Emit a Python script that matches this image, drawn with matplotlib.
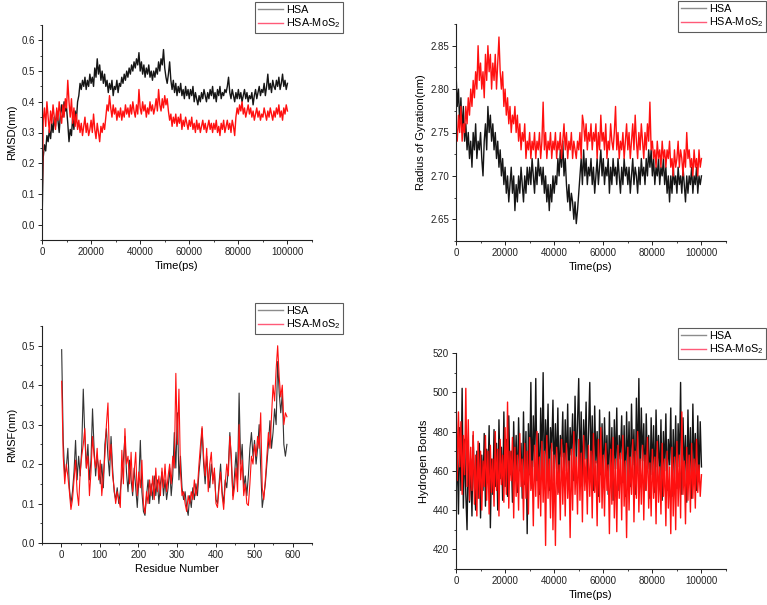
import numpy as np
import matplotlib
matplotlib.use("Agg")
import matplotlib.pyplot as plt
from matplotlib.ticker import MultipleLocator
from matplotlib.lines import Line2D

plt.rcParams['font.family'] = ['Liberation Sans', 'DejaVu Sans']
plt.rcParams['mathtext.fontset'] = 'custom'
plt.rcParams['mathtext.rm'] = 'Liberation Sans'

# time grid (ps), one frame every 500 ps
time = np.linspace(0, 100000, 201)
residue = np.arange(1, 586, 4)

# RMSD (nm)
rmsd_hsa = [0.00, 0.22, 0.26, 0.24, 0.29, 0.27, 0.31, 0.28, 0.33, 0.30,
            0.35, 0.32, 0.37, 0.34, 0.30, 0.36, 0.39, 0.35, 0.40, 0.37,
            0.38, 0.33, 0.27, 0.31, 0.29, 0.35, 0.31, 0.37, 0.34, 0.40,
            0.42, 0.46, 0.44, 0.47, 0.45, 0.48, 0.44, 0.47, 0.45, 0.49,
            0.46, 0.48, 0.45, 0.51, 0.48, 0.54, 0.49, 0.52, 0.47, 0.50,
            0.46, 0.49, 0.45, 0.47, 0.43, 0.46, 0.44, 0.47, 0.42, 0.45,
            0.44, 0.47, 0.43, 0.46, 0.45, 0.48, 0.46, 0.49, 0.47, 0.50,
            0.48, 0.51, 0.49, 0.52, 0.50, 0.53, 0.51, 0.54, 0.52, 0.56,
            0.50, 0.53, 0.49, 0.52, 0.48, 0.51, 0.49, 0.52, 0.48, 0.50,
            0.47, 0.50, 0.48, 0.51, 0.49, 0.53, 0.50, 0.54, 0.52, 0.57,
            0.51, 0.48, 0.46, 0.49, 0.53, 0.47, 0.44, 0.47, 0.43, 0.46,
            0.42, 0.45, 0.43, 0.46, 0.42, 0.44, 0.41, 0.45, 0.42, 0.44,
            0.41, 0.44, 0.42, 0.45, 0.40, 0.43, 0.41, 0.39, 0.42, 0.40,
            0.43, 0.41, 0.44, 0.42, 0.40, 0.43, 0.41, 0.44, 0.42, 0.45,
            0.41, 0.43, 0.40, 0.44, 0.42, 0.45, 0.41, 0.43, 0.42, 0.44,
            0.43, 0.45, 0.48, 0.43, 0.41, 0.44, 0.42, 0.40, 0.43, 0.41,
            0.44, 0.41, 0.43, 0.40, 0.42, 0.44, 0.41, 0.43, 0.40, 0.42,
            0.41, 0.43, 0.39, 0.42, 0.44, 0.41, 0.43, 0.45, 0.42, 0.44,
            0.43, 0.46, 0.42, 0.45, 0.49, 0.44, 0.46, 0.43, 0.47, 0.45,
            0.44, 0.47, 0.45, 0.48, 0.44, 0.46, 0.49, 0.45, 0.47, 0.44,
            0.46]
rmsd_mos2 = [0.05, 0.34, 0.38, 0.32, 0.40, 0.35, 0.30, 0.37, 0.33, 0.39,
             0.35, 0.31, 0.38, 0.34, 0.40, 0.36, 0.33, 0.39, 0.35, 0.41,
             0.38, 0.47, 0.40, 0.35, 0.41, 0.33, 0.38, 0.32, 0.36, 0.31,
             0.34, 0.30, 0.33, 0.29, 0.32, 0.35, 0.30, 0.33, 0.29, 0.31,
             0.34, 0.30, 0.36, 0.31, 0.28, 0.33, 0.30, 0.27, 0.32, 0.30,
             0.33, 0.31, 0.35, 0.39, 0.37, 0.42, 0.38, 0.35, 0.39, 0.36,
             0.38, 0.34, 0.37, 0.35, 0.38, 0.34, 0.37, 0.35, 0.39, 0.36,
             0.38, 0.35, 0.39, 0.36, 0.40, 0.37, 0.35, 0.39, 0.36, 0.44,
             0.38, 0.36, 0.40, 0.37, 0.39, 0.35, 0.38, 0.36, 0.40, 0.37,
             0.39, 0.36, 0.38, 0.41, 0.37, 0.44, 0.39, 0.37, 0.41, 0.38,
             0.42, 0.39, 0.41, 0.37, 0.34, 0.36, 0.32, 0.35, 0.33, 0.36,
             0.32, 0.35, 0.33, 0.36, 0.31, 0.34, 0.32, 0.35, 0.33, 0.31,
             0.34, 0.32, 0.35, 0.31, 0.33, 0.30, 0.34, 0.31, 0.33, 0.30,
             0.32, 0.34, 0.31, 0.33, 0.30, 0.32, 0.34, 0.31, 0.33, 0.30,
             0.33, 0.31, 0.34, 0.30, 0.32, 0.29, 0.33, 0.31, 0.34, 0.30,
             0.32, 0.34, 0.31, 0.33, 0.30, 0.34, 0.32, 0.29, 0.35, 0.38,
             0.36, 0.39, 0.37, 0.40, 0.36, 0.38, 0.35, 0.37, 0.39, 0.36,
             0.38, 0.35, 0.37, 0.34, 0.36, 0.38, 0.35, 0.37, 0.34, 0.36,
             0.35, 0.38, 0.36, 0.34, 0.37, 0.35, 0.38, 0.36, 0.34, 0.37,
             0.35, 0.38, 0.36, 0.39, 0.35, 0.37, 0.34, 0.38, 0.36, 0.39,
             0.37]

# Radius of gyration (nm)
rg_hsa = [2.82, 2.78, 2.80, 2.76, 2.79, 2.75, 2.78, 2.74, 2.76, 2.73,
          2.75, 2.72, 2.74, 2.71, 2.75, 2.73, 2.76, 2.72, 2.74, 2.73,
          2.75, 2.72, 2.70, 2.74, 2.76, 2.73, 2.78, 2.75, 2.77, 2.74,
          2.76, 2.73, 2.75, 2.72, 2.74, 2.71, 2.73, 2.70, 2.72, 2.69,
          2.71, 2.68, 2.70, 2.67, 2.69, 2.71, 2.68, 2.70, 2.66, 2.69,
          2.67, 2.70, 2.68, 2.71, 2.69, 2.67, 2.70, 2.68, 2.71, 2.69,
          2.71, 2.69, 2.72, 2.70, 2.68, 2.71, 2.69, 2.72, 2.70, 2.71,
          2.69, 2.71, 2.68, 2.70, 2.67, 2.69, 2.66, 2.69, 2.67, 2.70,
          2.68, 2.70, 2.69, 2.72, 2.70, 2.73, 2.71, 2.74, 2.70, 2.72,
          2.69, 2.67, 2.69, 2.66, 2.68, 2.67, 2.65, 2.67, 2.645, 2.66,
          2.68, 2.70, 2.72, 2.69, 2.73, 2.70, 2.72, 2.69, 2.71, 2.70,
          2.72, 2.69, 2.71, 2.68, 2.70, 2.72, 2.69, 2.71, 2.73, 2.70,
          2.72, 2.69, 2.71, 2.70, 2.72, 2.68, 2.71, 2.69, 2.72, 2.70,
          2.71, 2.69, 2.72, 2.70, 2.68, 2.71, 2.69, 2.72, 2.70, 2.71,
          2.69, 2.71, 2.68, 2.70, 2.72, 2.69, 2.71, 2.70, 2.68, 2.71,
          2.69, 2.72, 2.70, 2.71, 2.69, 2.72, 2.70, 2.73, 2.71, 2.73,
          2.70, 2.72, 2.69, 2.71, 2.70, 2.72, 2.69, 2.71, 2.70, 2.72,
          2.69, 2.71, 2.68, 2.70, 2.67, 2.70, 2.68, 2.71, 2.69, 2.70,
          2.68, 2.71, 2.69, 2.70, 2.68, 2.71, 2.69, 2.67, 2.70, 2.68,
          2.70, 2.69, 2.71, 2.68, 2.70, 2.69, 2.71, 2.68, 2.70, 2.69,
          2.70]
rg_mos2 = [2.76, 2.74, 2.77, 2.75, 2.78, 2.74, 2.76, 2.75, 2.78, 2.76,
           2.79, 2.77, 2.80, 2.78, 2.81, 2.79, 2.82, 2.80, 2.85, 2.81,
           2.83, 2.80, 2.82, 2.79, 2.84, 2.81, 2.85, 2.82, 2.84, 2.80,
           2.83, 2.81, 2.84, 2.80, 2.83, 2.86, 2.82, 2.80, 2.82, 2.78,
           2.80, 2.77, 2.79, 2.76, 2.78, 2.75, 2.77, 2.76, 2.78, 2.75,
           2.77, 2.74, 2.76, 2.73, 2.75, 2.74, 2.76, 2.72, 2.74, 2.73,
           2.75, 2.72, 2.74, 2.73, 2.75, 2.72, 2.74, 2.73, 2.75, 2.72,
           2.74, 2.785, 2.73, 2.75, 2.72, 2.74, 2.73, 2.75, 2.72, 2.74,
           2.73, 2.75, 2.72, 2.74, 2.73, 2.75, 2.72, 2.74, 2.76, 2.73,
           2.75, 2.72, 2.74, 2.73, 2.75, 2.72, 2.74, 2.73, 2.72, 2.74,
           2.73, 2.75, 2.72, 2.77, 2.76, 2.74, 2.76, 2.73, 2.75, 2.74,
           2.76, 2.73, 2.75, 2.74, 2.76, 2.72, 2.75, 2.73, 2.77, 2.74,
           2.75, 2.73, 2.76, 2.72, 2.74, 2.73, 2.76, 2.74, 2.73, 2.75,
           2.78, 2.73, 2.75, 2.72, 2.74, 2.73, 2.75, 2.72, 2.74, 2.76,
           2.73, 2.75, 2.72, 2.74, 2.76, 2.73, 2.77, 2.74, 2.72, 2.75,
           2.73, 2.76, 2.74, 2.72, 2.75, 2.73, 2.76, 2.74, 2.785, 2.73,
           2.74, 2.72, 2.73, 2.71, 2.74, 2.72, 2.73, 2.71, 2.74, 2.72,
           2.73, 2.71, 2.73, 2.72, 2.74, 2.71, 2.72, 2.70, 2.73, 2.71,
           2.72, 2.74, 2.71, 2.73, 2.72, 2.70, 2.73, 2.71, 2.75, 2.72,
           2.73, 2.71, 2.72, 2.70, 2.73, 2.71, 2.72, 2.70, 2.73, 2.71,
           2.72]

# RMSF (nm) every 4th residue
rmsf_hsa = [0.49, 0.26, 0.17, 0.19, 0.24, 0.14, 0.10, 0.13, 0.18, 0.26,
            0.16, 0.22, 0.17, 0.24, 0.39, 0.27, 0.19, 0.25, 0.16, 0.21,
            0.34, 0.24, 0.17, 0.22, 0.19, 0.15, 0.20, 0.14, 0.25, 0.29,
            0.22, 0.17, 0.27, 0.19, 0.13, 0.11, 0.14, 0.10, 0.13, 0.17,
            0.21, 0.27, 0.18, 0.13, 0.21, 0.16, 0.12, 0.19, 0.14, 0.09,
            0.16, 0.26, 0.13, 0.08, 0.07, 0.12, 0.16, 0.10, 0.15, 0.11,
            0.17, 0.12, 0.16, 0.10, 0.15, 0.18, 0.12, 0.16, 0.11, 0.14,
            0.19, 0.12, 0.17, 0.28, 0.19, 0.33, 0.16, 0.22, 0.14, 0.11,
            0.13, 0.09, 0.07, 0.12, 0.09, 0.14, 0.11, 0.15, 0.12, 0.18,
            0.22, 0.29, 0.20, 0.15, 0.22, 0.17, 0.14, 0.20, 0.16, 0.18,
            0.11, 0.10, 0.15, 0.20, 0.13, 0.10, 0.16, 0.14, 0.19, 0.28,
            0.20, 0.12, 0.17, 0.23, 0.16, 0.38, 0.20, 0.25, 0.14, 0.17,
            0.12, 0.17, 0.24, 0.28, 0.22, 0.26, 0.20, 0.24, 0.30, 0.19,
            0.09, 0.12, 0.15, 0.20, 0.25, 0.31, 0.24, 0.28, 0.34, 0.30,
            0.46, 0.38, 0.33, 0.38, 0.25, 0.22, 0.25]
rmsf_mos2 = [0.41, 0.22, 0.15, 0.20, 0.17, 0.13, 0.085, 0.11, 0.16, 0.21,
             0.13, 0.095, 0.18, 0.22, 0.25, 0.29, 0.19, 0.22, 0.12, 0.18,
             0.27, 0.22, 0.19, 0.24, 0.16, 0.21, 0.12, 0.17, 0.22, 0.30,
             0.355, 0.21, 0.25, 0.17, 0.14, 0.10, 0.13, 0.11, 0.09, 0.235,
             0.15, 0.29, 0.20, 0.22, 0.15, 0.23, 0.13, 0.18, 0.23, 0.12,
             0.18, 0.14, 0.21, 0.10, 0.075, 0.13, 0.10, 0.16, 0.12, 0.17,
             0.11, 0.19, 0.13, 0.17, 0.12, 0.19, 0.14, 0.20, 0.13, 0.17,
             0.20, 0.15, 0.22, 0.19, 0.43, 0.25, 0.39, 0.18, 0.12, 0.13,
             0.10, 0.08, 0.12, 0.10, 0.13, 0.11, 0.16, 0.12, 0.14, 0.20,
             0.25, 0.295, 0.22, 0.17, 0.24, 0.13, 0.20, 0.23, 0.15, 0.19,
             0.10, 0.09, 0.14, 0.18, 0.12, 0.085, 0.15, 0.20, 0.17, 0.27,
             0.22, 0.11, 0.14, 0.19, 0.13, 0.30, 0.16, 0.21, 0.12, 0.15,
             0.10, 0.095, 0.15, 0.22, 0.20, 0.25, 0.22, 0.27, 0.24, 0.33,
             0.14, 0.11, 0.16, 0.22, 0.28, 0.24, 0.32, 0.40, 0.36, 0.44,
             0.50, 0.42, 0.37, 0.40, 0.30, 0.33, 0.32]

# number of hydrogen bonds
hb_hsa = [445, 470, 438, 482, 450, 502, 441, 476, 448, 430,
          472, 444, 466, 437, 478, 452, 440, 470, 446, 474,
          436, 468, 450, 479, 442, 471, 455, 483, 431, 466,
          448, 481, 452, 474, 440, 486, 456, 472, 445, 490,
          452, 476, 447, 488, 458, 470, 444, 485, 455, 478,
          449, 487, 460, 474, 446, 490, 453, 480, 428, 484,
          458, 505, 451, 488, 462, 507, 455, 479, 448, 492,
          463, 510, 452, 486, 466, 494, 450, 482, 470, 496,
          455, 484, 461, 492, 449, 478, 467, 490, 453, 486,
          460, 494, 451, 482, 468, 489, 455, 498, 462, 485,
          507, 458, 490, 452, 486, 466, 495, 455, 481, 505,
          460, 488, 450, 493, 464, 480, 447, 491, 458, 484,
          452, 487, 463, 478, 448, 490, 457, 482, 445, 486,
          461, 492, 450, 478, 466, 488, 454, 483, 447, 490,
          459, 485, 452, 494, 463, 481, 448, 497, 460, 507,
          455, 492, 465, 484, 450, 489, 461, 478, 446, 487,
          458, 483, 449, 491, 462, 478, 452, 486, 445, 480,
          460, 489, 450, 476, 463, 492, 447, 481, 456, 488,
          451, 484, 462, 505, 448, 487, 459, 478, 444, 491,
          457, 482, 446, 494, 460, 479, 450, 488, 455, 485,
          462]
hb_mos2 = [502, 455, 490, 462, 485, 448, 478, 458, 502, 452,
           486, 445, 472, 450, 480, 443, 468, 437, 475, 446,
           470, 440, 465, 452, 478, 445, 470, 438, 473, 449,
           466, 442, 480, 450, 471, 437, 476, 453, 468, 444,
           482, 448, 495, 441, 470, 455, 477, 436, 472, 447,
           468, 440, 479, 452, 466, 435, 474, 446, 470, 438,
           477, 450, 465, 432, 473, 447, 480, 441, 467, 437,
           475, 444, 470, 422, 478, 446, 466, 436, 474, 430,
           468, 422, 472, 448, 463, 435, 476, 443, 469, 437,
           474, 446, 465, 426, 471, 440, 480, 448, 467, 438,
           476, 445, 469, 434, 478, 450, 466, 438, 473, 447,
           470, 436, 479, 449, 465, 432, 476, 444, 482, 441,
           468, 437, 474, 450, 463, 428, 471, 443, 477, 436,
           466, 429, 473, 446, 469, 435, 478, 442, 465, 426,
           472, 440, 467, 448, 476, 434, 470, 446, 480, 439,
           466, 443, 473, 435, 468, 450, 477, 441, 464, 437,
           471, 446, 467, 433, 475, 444, 462, 438, 474, 447,
           466, 432, 470, 441, 462, 428, 472, 437, 467, 430,
           475, 442, 468, 436, 490, 448, 465, 433, 472, 445,
           468, 439, 474, 446, 466, 441, 476, 449, 463, 447,
           458]

labels = ["HSA", "HSA-MoS$_2$"]
W, H = 767, 605
BLACK = '#151515'
RED = '#ff1010'
LW = 1.0

handles = [Line2D([], [], color='#8c8c8c', lw=1.0),
           Line2D([], [], color='#ff5a78', lw=1.0)]


def style_axes(ax):
    ax.spines['top'].set_visible(False)
    ax.spines['right'].set_visible(False)
    for s in ('left', 'bottom'):
        ax.spines[s].set_linewidth(0.8)
        ax.spines[s].set_color('#222222')
    ax.tick_params(which='major', direction='out', length=3, width=0.7,
                   labelsize=7, pad=2, colors='#222222')
    ax.tick_params(which='minor', direction='out', length=1.6, width=0.6,
                   colors='#222222')


def add_legend(ax, right_px, top_px):
    leg = ax.legend(handles, labels, loc='upper right',
                    bbox_to_anchor=(right_px / W, 1 - top_px / H),
                    bbox_transform=ax.figure.transFigure,
                    fontsize=7.8, frameon=True, fancybox=False,
                    handlelength=2.3, handletextpad=0.3, borderpad=0.25,
                    labelspacing=0.15, borderaxespad=0)
    leg.get_frame().set_edgecolor('#333333')
    leg.get_frame().set_linewidth(0.8)


fig = plt.figure(figsize=(W / 100, H / 100), dpi=100)

# RMSD
ax1 = fig.add_axes([42 / W, 1 - 240 / H, 270 / W, 215 / H])
ax1.plot(time, rmsd_hsa, color=BLACK, lw=LW)
ax1.plot(time, rmsd_mos2, color=RED, lw=LW)
ax1.set_xlim(0, 110000)
ax1.set_ylim(-0.05, 0.65)
ax1.xaxis.set_major_locator(MultipleLocator(20000))
ax1.xaxis.set_minor_locator(MultipleLocator(10000))
ax1.set_yticks(np.arange(0, 0.61, 0.1))
ax1.yaxis.set_minor_locator(MultipleLocator(0.05))
ax1.set_xlabel("Time(ps)", fontsize=8, labelpad=3)
ax1.set_ylabel("RMSD(nm)", fontsize=8, labelpad=3)
style_axes(ax1)
add_legend(ax1, 343, 2)

# Radius of gyration
ax2 = fig.add_axes([456 / W, 1 - 241 / H, 270 / W, 217 / H])
ax2.plot(time, rg_hsa, color=BLACK, lw=LW)
ax2.plot(time, rg_mos2, color=RED, lw=LW)
ax2.set_xlim(0, 110000)
ax2.set_ylim(2.625, 2.875)
ax2.xaxis.set_major_locator(MultipleLocator(20000))
ax2.xaxis.set_minor_locator(MultipleLocator(10000))
ax2.set_yticks([2.65, 2.70, 2.75, 2.80, 2.85])
ax2.yaxis.set_minor_locator(MultipleLocator(0.025))
ax2.set_xlabel("Time(ps)", fontsize=8, labelpad=3)
ax2.set_ylabel("Radius of Gyration(nm)", fontsize=8, labelpad=3)
style_axes(ax2)
add_legend(ax2, 766, 1)

# RMSF
ax3 = fig.add_axes([42 / W, 1 - 543 / H, 270 / W, 217 / H])
ax3.plot(residue, rmsf_hsa, color='#333333', lw=0.8)
ax3.plot(residue, rmsf_mos2, color=RED, lw=0.8)
ax3.set_xlim(-50, 650)
ax3.set_ylim(0, 0.55)
ax3.xaxis.set_major_locator(MultipleLocator(100))
ax3.xaxis.set_minor_locator(MultipleLocator(50))
ax3.set_yticks(np.arange(0, 0.51, 0.1))
ax3.yaxis.set_minor_locator(MultipleLocator(0.05))
ax3.set_xlabel("Residue Number", fontsize=8, labelpad=3)
ax3.set_ylabel("RMSF(nm)", fontsize=8, labelpad=3)
style_axes(ax3)
add_legend(ax3, 343, 303)

# Hydrogen bonds
ax4 = fig.add_axes([456 / W, 1 - 569 / H, 270 / W, 216 / H])
ax4.plot(time, hb_hsa, color=BLACK, lw=LW)
ax4.plot(time, hb_mos2, color=RED, lw=LW)
ax4.set_xlim(0, 110000)
ax4.set_ylim(410, 520)
ax4.xaxis.set_major_locator(MultipleLocator(20000))
ax4.xaxis.set_minor_locator(MultipleLocator(10000))
ax4.set_yticks(np.arange(420, 521, 20))
ax4.yaxis.set_minor_locator(MultipleLocator(10))
ax4.set_xlabel("Time(ps)", fontsize=8, labelpad=3)
ax4.set_ylabel("Hydrogen Bonds", fontsize=8, labelpad=3)
style_axes(ax4)
add_legend(ax4, 766, 328)

fig.savefig("out.png", dpi=100)
